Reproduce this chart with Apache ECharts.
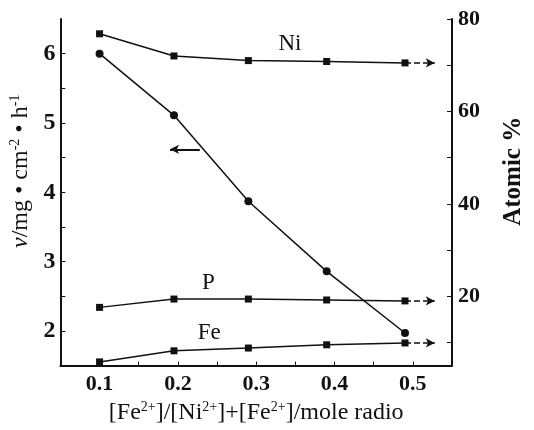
<!DOCTYPE html>
<html>
<head>
<meta charset="utf-8">
<script src="https://cdn.jsdelivr.net/npm/echarts@6/dist/echarts.min.js"></script>
<style>
  html, body { margin: 0; padding: 0; background: #fff; }
  #chartLine { width: 534px; height: 430px; }
</style>
</head>
<body>
<div id="chartLine"></div>
<script>
// values
const ratio = [0.1, 0.195, 0.29, 0.39, 0.49]
const rate = [6.0, 5.11, 3.87, 2.86, 1.97]
const niPct = [76.8, 72.0, 71.0, 70.8, 70.5]
const pPct = [17.6, 19.4, 19.4, 19.2, 19.0]
const fePct = [5.8, 8.2, 8.8, 9.5, 9.9]
const xTicks = [0.1, 0.15, 0.2, 0.25, 0.3, 0.35, 0.4, 0.45, 0.5]
const xLabels = [0.1, 0.2, 0.3, 0.4, 0.5]
const leftTicks = [2, 2.5, 3, 3.5, 4, 4.5, 5, 5.5, 6]
const leftLabels = [2, 3, 4, 5, 6]
const rightTicks = [10, 20, 30, 40, 50, 60, 70, 80]
const rightLabels = [20, 40, 60, 80]

const font = 'Liberation Serif'
const ink = '#111'
const arrowEnd = 0.528

const pairs = (ys) => ratio.map((x, i) => [x, ys[i]])

const axisBase = {
  type: 'value',
  axisLine: { show: true, lineStyle: { color: ink, width: 2 } },
  splitLine: { show: false },
  nameTextStyle: { fontFamily: font, fontSize: 24, color: ink }
}
const labelStyle = { fontFamily: font, fontSize: 22, fontWeight: 'bold', color: ink }
const supStyle = { fontFamily: font, fontSize: 14, color: ink, verticalAlign: 'top', padding: [0, 0, 11, 0] }

// dashed arrow telling which axis a composition curve belongs to
const rightArrow = (ys) => ({
  silent: true,
  symbol: ['none', 'arrow'],
  symbolSize: [7, 9],
  label: { show: false },
  lineStyle: { color: ink, type: 'dashed', width: 1.5 },
  data: [[{ coord: [ratio[ratio.length - 1], ys[ys.length - 1]] }, { coord: [arrowEnd, ys[ys.length - 1]] }]]
})
const tag = (text, x, y) => ({
  silent: true,
  symbolSize: 0,
  label: { show: true, formatter: text, fontFamily: font, fontSize: 23, color: ink },
  data: [{ coord: [x, y] }]
})

const compSeries = (name, ys, tagText, tx, ty) => ({
  name,
  type: 'line',
  yAxisIndex: 1,
  data: pairs(ys),
  symbol: 'rect',
  symbolSize: 7,
  lineStyle: { color: ink, width: 1.5 },
  itemStyle: { color: ink },
  markLine: rightArrow(ys),
  markPoint: tag(tagText, tx, ty)
})

const option = {
  animation: false,
  grid: { left: 60, right: 75, top: 19, bottom: 63 },
  xAxis: {
    ...axisBase,
    min: 0.05,
    max: 0.55,
    axisTick: { inside: true, length: 4, lineStyle: { color: ink }, customValues: xTicks },
    axisLabel: { ...labelStyle, margin: 8, customValues: xLabels, formatter: (v) => v.toFixed(1) },
    name: '[Fe{s|2+}]/[Ni{s|2+}]+[Fe{s|2+}]/mole radio',
    nameLocation: 'middle',
    nameGap: 30,
    nameTextStyle: { ...axisBase.nameTextStyle, rich: { s: supStyle } }
  },
  yAxis: [
    {
      ...axisBase,
      position: 'left',
      min: 1.5,
      max: 6.5,
      axisTick: { inside: true, length: 5, lineStyle: { color: ink }, customValues: leftTicks },
      axisLabel: { ...labelStyle, fontSize: 24, margin: 5, customValues: leftLabels },
      name: '{i|ν}/mg • cm{s|-2} • h{s|-1}',
      nameLocation: 'middle',
      nameGap: 22,
      nameTextStyle: {
        ...axisBase.nameTextStyle,
        padding: [0, 0, 0, 42],
        rich: { s: supStyle, i: { fontFamily: font, fontSize: 24, fontStyle: 'italic', color: ink } }
      }
    },
    {
      ...axisBase,
      position: 'right',
      min: 5,
      max: 80,
      axisTick: { inside: true, length: 5, lineStyle: { color: ink }, customValues: rightTicks },
      axisLabel: { ...labelStyle, margin: 6, customValues: rightLabels },
      name: 'Atomic %',
      nameLocation: 'middle',
      nameGap: 49,
      nameTextStyle: { ...axisBase.nameTextStyle, fontSize: 25, fontWeight: 'bold', padding: [0, 0, 0, 42] }
    }
  ],
  series: [
    {
      name: 'rate',
      type: 'line',
      yAxisIndex: 0,
      data: pairs(rate),
      symbol: 'circle',
      symbolSize: 8,
      lineStyle: { color: ink, width: 1.5 },
      itemStyle: { color: ink },
      markLine: {
        silent: true,
        symbol: ['none', 'arrow'],
        symbolSize: [7, 9],
        label: { show: false },
        lineStyle: { color: ink, type: 'solid', width: 2 },
        data: [[{ coord: [0.228, 4.62] }, { coord: [0.19, 4.62] }]]
      }
    },
    compSeries('Ni', niPct, 'Ni', 0.343, 74.6),
    compSeries('P', pPct, 'P', 0.239, 22.8),
    compSeries('Fe', fePct, 'Fe', 0.24, 12.0)
  ]
}

const myChart = echarts.init(document.getElementById('chartLine'))
myChart.setOption(option)
window.addEventListener('resize', () => {
  myChart.resize()
})
</script>
</body>
</html>
